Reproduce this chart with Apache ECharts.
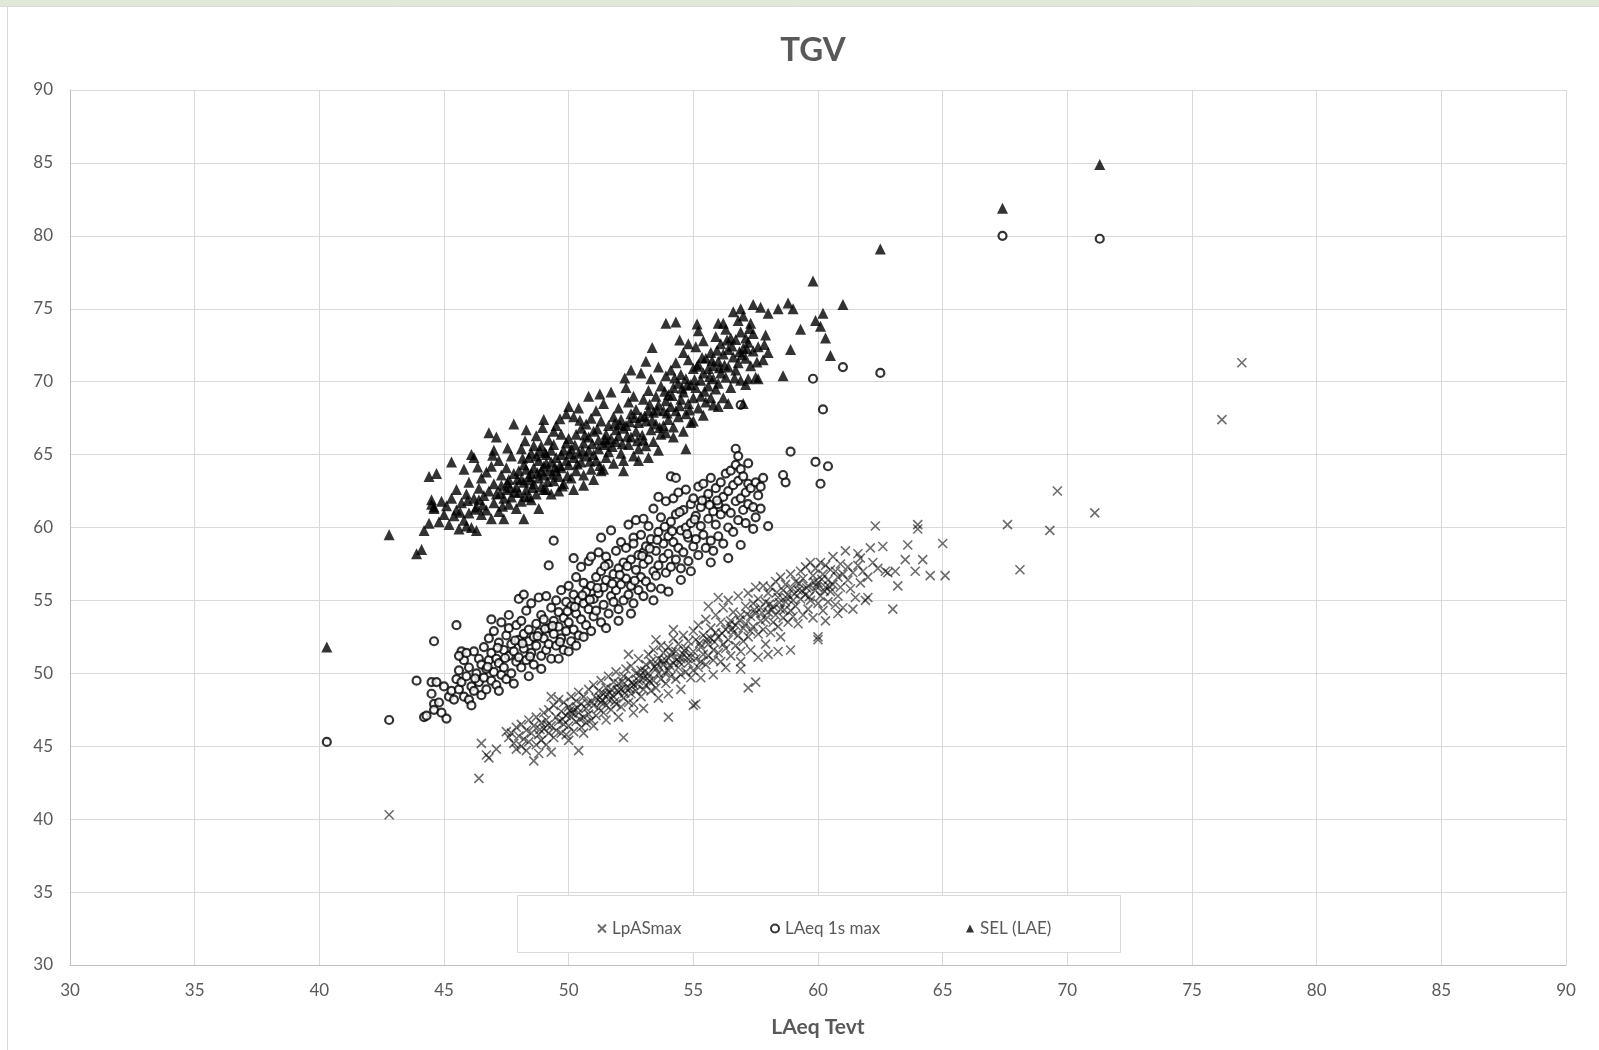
<!DOCTYPE html>
<html>
  <head>
    <meta charset="utf-8">
    <title>TGV</title>
    <script src="https://cdn.jsdelivr.net/npm/echarts@6/dist/echarts.min.js"></script>
    <style>
      html, body { margin: 0; padding: 0; background: #fff; }
      #main { width: 1599px; height: 1050px; }
    </style>
  </head>
  <body>
    <div id="main"></div>
    <script type="text/javascript">

      var chartTitle = 'TGV';
      var xName = 'LAeq Tevt';
      var axisTicks = [30, 35, 40, 45, 50, 55, 60, 65, 70, 75, 80, 85, 90];
      var seriesNames = ['LpASmax', 'LAeq 1s max', 'SEL (LAE)'];

      // LpASmax (crosses)
      var lpasmax = [
        [42.8,40.3],[46.4,42.8],[46.5,45.2],[46.7,44.4],[46.8,44.2],[47.1,44.8],[48.6,44.0],[49.3,44.6],[50.4,44.7],
        [52.2,45.6],[54.0,47.0],[55.0,47.8],[55.1,47.9],[57.2,49.0],[57.5,49.4],[60.0,52.3],[60.0,52.5],[63.0,54.4],
        [64.0,60.2],[64.0,59.9],[65.0,58.9],[65.1,56.7],[62.3,60.1],[67.6,60.2],[68.1,57.1],[69.3,59.8],[69.6,62.5],
        [71.1,61.0],[76.2,67.4],[77.0,71.3],[62.6,58.7],[63.6,58.8],[64.2,57.8],[63.9,57.0],[64.5,56.7],[62.8,56.9],
        [63.2,56.0],[63.5,57.8],[61.2,56.4],[62.0,55.2],[61.7,57.9],[62.1,58.6],[58.4,51.5],[58.9,51.6],[56.9,50.3],
        [47.6,45.6],[47.7,45.9],[47.8,45.2],[47.9,46.3],[48.0,45.7],[48.1,45.0],[48.1,46.5],[48.2,45.5],[48.3,46.1],
        [48.4,45.3],[48.4,46.8],[48.5,45.9],[48.6,46.4],[48.7,45.1],[48.7,47.0],[48.8,45.8],[48.9,46.6],[48.9,45.4],
        [49.0,46.2],[49.0,47.3],[47.9,44.8],[48.3,44.7],[48.8,44.5],[49.1,45.1],[47.5,46.0],
        [49.1,46.8],[49.2,45.9],[49.2,47.5],[49.3,46.4],[49.4,47.8],[49.4,45.6],[49.5,47.0],[49.5,46.1],[49.6,48.2],
        [49.6,46.7],[49.7,45.9],[49.7,47.4],[49.8,46.5],[49.8,48.0],[49.9,47.1],[49.9,45.8],[50.0,47.7],[50.0,46.4],
        [50.1,48.4],[50.1,47.0],[50.2,46.0],[50.2,47.5],[50.3,48.1],[50.3,46.7],[50.4,47.3],[50.4,48.7],[50.5,46.3],
        [50.5,47.9],[50.6,47.0],[50.6,48.4],[50.7,46.6],[50.7,47.6],[50.8,48.9],[50.8,47.2],[50.9,48.1],[50.9,46.8],
        [51.0,47.8],[51.0,49.2],[49.3,48.4],[50.0,45.4],[50.6,45.9],[51.0,46.4],
        [51.1,48.3],[51.1,47.1],[51.2,48.8],[51.2,47.6],[51.3,49.5],[51.3,48.0],[51.4,47.3],[51.4,48.6],[51.5,49.0],
        [51.5,47.8],[51.6,48.2],[51.6,49.8],[51.7,47.5],[51.7,48.9],[51.8,48.4],[51.8,49.4],[51.9,47.9],[51.9,50.1],
        [52.0,48.7],[52.0,49.3],[52.1,47.7],[52.1,48.9],[52.2,49.8],[52.2,48.3],[52.3,50.3],[52.3,49.0],[52.4,48.0],
        [52.4,49.6],[52.5,48.6],[52.5,50.5],[52.6,49.2],[52.6,47.9],[52.7,50.0],[52.7,48.8],[52.8,49.5],[52.8,51.0],
        [52.9,48.4],[52.9,50.2],[53.0,49.7],[53.0,48.9],[51.5,46.8],[52.0,47.0],[52.6,47.3],[53.0,47.6],[52.4,51.3],
        [53.1,50.6],[53.1,49.2],[53.2,51.3],[53.2,50.0],[53.3,48.8],[53.3,50.8],[53.4,49.5],[53.4,51.6],[53.5,50.3],
        [53.5,49.0],[53.6,51.0],[53.6,50.0],[53.7,51.9],[53.7,49.6],[53.8,50.6],[53.8,51.4],[53.9,49.3],[53.9,50.9],
        [54.0,51.8],[54.0,50.2],[54.1,49.8],[54.1,51.2],[54.2,52.4],[54.2,50.7],[54.3,49.6],[54.3,51.5],[54.4,50.4],
        [54.4,52.0],[54.5,51.0],[54.5,49.9],[54.6,52.6],[54.6,51.3],[54.7,50.1],[54.7,51.7],[54.8,50.7],[54.8,52.2],
        [54.9,51.1],[54.9,49.7],[55.0,52.9],[55.0,51.5],[53.6,48.3],[54.0,48.6],[54.5,48.9],[55.0,50.2],[53.5,52.3],
        [54.2,53.0],
        [55.1,51.0],[55.1,52.3],[55.2,50.4],[55.2,53.3],[55.3,51.8],[55.3,50.8],[55.4,52.6],[55.4,51.3],[55.5,53.7],
        [55.5,50.6],[55.6,52.0],[55.6,51.2],[55.7,53.1],[55.7,52.4],[55.8,51.6],[55.8,50.9],[55.9,52.8],[55.9,54.0],
        [56.0,51.4],[56.0,52.5],[56.1,53.5],[56.1,50.8],[56.2,52.0],[56.2,54.5],[56.3,51.7],[56.3,53.0],[56.4,52.3],
        [56.4,55.0],[56.5,51.2],[56.5,53.6],[56.6,52.8],[56.6,54.2],[56.7,51.9],[56.7,53.3],[56.8,55.3],[56.8,52.6],
        [56.9,54.0],[56.9,51.5],[57.0,53.1],[57.0,52.2],[55.3,49.7],[55.8,49.9],[56.3,50.4],[56.9,50.8],[55.6,54.6],
        [56.0,55.2],
        [57.1,54.6],[57.1,53.4],[57.2,52.5],[57.2,55.5],[57.3,53.9],[57.3,52.9],[57.4,54.8],[57.4,53.2],[57.5,55.9],
        [57.5,54.1],[57.6,52.7],[57.6,55.1],[57.7,53.6],[57.7,54.5],[57.8,56.0],[57.8,53.0],[57.9,54.9],[57.9,53.7],
        [58.0,55.5],[58.0,54.2],[58.1,52.8],[58.1,55.9],[58.2,54.6],[58.2,53.5],[58.3,56.3],[58.3,54.0],[58.4,55.2],
        [58.4,53.2],[58.5,56.6],[58.5,54.4],[58.6,55.7],[58.6,53.8],[58.7,54.9],[58.7,56.1],[58.8,53.5],[58.8,55.4],
        [58.9,54.3],[58.9,56.8],[59.0,55.0],[59.0,53.9],[57.3,51.6],[57.9,52.0],[58.5,52.5],[58.0,51.3],[57.6,51.1],
        [59.1,56.3],[59.1,54.6],[59.2,55.7],[59.2,53.4],[59.3,57.0],[59.3,55.1],[59.4,54.0],[59.4,56.5],[59.5,55.4],
        [59.5,57.3],[59.6,54.4],[59.6,56.0],[59.7,57.6],[59.7,55.0],[59.8,56.7],[59.8,53.8],[59.9,55.7],[59.9,57.2],
        [60.0,54.8],[60.0,56.2],[60.1,57.6],[60.1,55.3],[60.2,56.8],[60.2,54.3],[60.3,55.9],[60.3,57.4],[60.4,56.4],
        [60.4,54.9],[60.5,57.1],[60.5,55.6],[60.6,56.1],[60.6,58.0],[60.7,54.7],[60.7,57.0],[60.8,56.6],[60.8,55.3],
        [60.9,57.5],[60.9,55.9],[61.0,56.8],[61.0,54.5],[61.2,57.3],[61.3,55.8],[61.4,56.9],[61.5,55.2],[61.6,57.4],
        [61.7,56.2],[61.8,57.0],[61.9,55.0],[62.0,56.6],[62.2,57.6],[61.1,58.4],[60.3,53.6],[60.8,54.1],[61.4,54.4],
        [61.6,58.2],[62.4,57.2],[62.7,57.0],[63.1,57.0],
        [50.15,47.25],[50.45,46.85],[50.75,47.95],[51.25,48.35],[51.55,48.55],[51.85,48.05],[52.15,49.45],[52.45,48.95],
        [52.75,49.25],[53.05,50.15],[53.25,49.45],[53.55,50.65],[53.85,50.05],[54.15,51.45],[54.45,50.75],[54.75,51.05],
        [57.75,54.15],[58.05,54.75],[58.35,55.55],[58.65,54.35],[58.95,55.85],[59.25,56.15],[59.55,55.85],[59.85,56.25],
        [60.15,56.45],[60.45,55.95],[57.45,54.35],[57.15,54.05],[56.85,53.65],[56.55,53.05],
        [51.35,48.15],[51.65,48.65],[51.95,48.85],[52.25,48.65],[52.55,49.35],[52.85,49.85],[53.15,49.65],[53.45,50.45],
        [53.75,50.85],[54.05,50.55],[54.35,50.95],[54.65,51.55],[58.15,54.35],[58.45,54.85],[58.75,55.15],[59.05,55.45],
        [59.35,55.65],[59.65,55.25],[59.95,55.95],[60.25,55.65],[49.75,46.85],[50.05,47.45],[50.35,47.65],[48.85,46.15],
        [49.15,46.45],[55.25,52.05],[55.55,52.35],[55.85,52.15],[56.15,52.75],[56.45,53.35]
      ];

      // LAeq 1s max (open circles)
      var laeq1s = [
        [40.3,45.3],[42.8,46.8],[43.9,49.5],[44.2,47.0],[44.3,47.1],[44.6,52.2],[45.5,53.3],[45.7,51.5],[49.2,57.4],
        [49.4,59.1],[52.6,59.3],[53.0,58.3],[56.9,68.4],[59.8,70.2],[61.0,71.0],[62.5,70.6],[60.2,68.1],[58.9,65.2],
        [59.9,64.5],[60.4,64.2],[60.1,63.0],[58.7,63.1],[58.6,63.6],[58.0,60.1],[67.4,80.0],[71.3,79.8],[54.1,63.5],
        [56.7,65.4],[56.8,64.9],
        [44.5,49.4],[44.7,49.4],[44.5,48.6],[44.6,47.9],[44.6,47.5],[44.8,48.0],[44.9,47.3],[45.0,49.1],[45.1,46.9],
        [45.2,48.4],[45.3,48.8],[45.4,48.2],[45.5,49.6],[45.6,48.9],[45.6,50.2],[45.7,49.4],[45.8,48.4],[45.8,50.9],
        [45.9,49.8],[46.0,48.2],[46.0,50.4],[46.1,49.1],[46.2,51.5],[46.2,48.8],[46.3,50.0],[46.4,49.4],[46.4,51.0],
        [46.5,48.5],[46.5,50.6],[45.6,51.2],[45.9,51.4],[46.1,47.8],
        [46.6,49.7],[46.6,51.8],[46.7,50.3],[46.7,48.9],[46.8,52.4],[46.8,50.9],[46.9,49.5],[46.9,51.4],[47.0,50.1],
        [47.0,52.9],[47.1,51.0],[47.1,49.2],[47.2,50.7],[47.2,52.1],[47.3,49.9],[47.3,53.5],[47.4,51.6],[47.4,50.4],
        [47.5,52.6],[47.5,49.6],[47.6,51.2],[47.6,53.1],[47.7,50.0],[47.7,52.0],[47.8,51.5],[47.8,49.3],[47.9,53.3],
        [47.9,50.8],[48.0,52.3],[48.0,51.1],[46.9,53.7],[47.2,48.8],[47.6,54.0],
        [48.1,50.4],[48.1,53.6],[48.2,52.7],[48.2,51.7],[48.3,54.3],[48.3,50.9],[48.4,52.2],[48.4,53.0],[48.5,51.4],
        [48.5,54.8],[48.6,52.5],[48.6,50.6],[48.7,53.4],[48.7,51.9],[48.8,55.2],[48.8,52.8],[48.9,51.2],[48.9,54.0],
        [49.0,52.4],[49.0,53.7],[49.1,51.6],[49.1,55.3],[49.2,53.1],[49.2,52.0],[49.3,54.5],[49.3,51.0],[49.4,53.6],
        [49.4,52.7],[49.5,55.0],[49.5,51.9],[48.0,55.1],[48.2,55.4],[48.4,49.8],[48.9,50.3],
        [49.6,53.2],[49.6,54.2],[49.7,52.4],[49.7,55.7],[49.8,53.8],[49.8,51.6],[49.9,54.9],[49.9,52.9],[50.0,56.0],
        [50.0,53.5],[50.1,52.2],[50.1,54.6],[50.2,55.4],[50.2,53.0],[50.3,56.6],[50.3,54.1],[50.4,52.6],[50.4,55.0],
        [50.5,57.3],[50.5,53.7],[50.6,54.8],[50.6,56.2],[50.7,53.3],[50.7,55.6],[50.8,57.7],[50.8,54.4],[50.9,52.9],
        [50.9,56.0],[51.0,55.1],[51.0,53.9],[49.6,51.0],[50.0,51.5],[50.3,51.9],[50.6,52.5],[50.9,58.0],[50.2,57.9],
        [51.1,56.6],[51.1,54.3],[51.2,58.3],[51.2,55.5],[51.3,53.5],[51.3,57.0],[51.4,55.9],[51.4,54.7],[51.5,58.0],
        [51.5,56.4],[51.6,54.1],[51.6,57.5],[51.7,55.3],[51.7,59.8],[51.8,56.8],[51.8,54.9],[51.9,58.4],[51.9,55.7],
        [52.0,57.2],[52.0,54.4],[52.1,56.1],[52.1,59.0],[52.2,57.6],[52.2,55.0],[52.3,58.6],[52.3,56.5],[52.4,55.4],
        [52.4,60.2],[52.5,57.8],[52.5,56.0],[52.6,54.8],[52.6,58.9],[52.7,57.1],[52.7,60.5],[52.8,55.7],[52.8,58.1],
        [52.9,56.6],[52.9,59.5],[53.0,57.5],[53.0,55.3],[51.5,53.1],[52.0,53.6],[52.5,54.1],[53.0,60.6],[51.3,59.3],
        [53.1,58.7],[53.1,56.3],[53.2,60.1],[53.2,57.8],[53.3,55.9],[53.3,59.2],[53.4,57.0],[53.4,61.3],[53.5,58.4],
        [53.5,56.7],[53.6,59.7],[53.6,57.4],[53.7,60.7],[53.7,55.8],[53.8,58.9],[53.8,57.9],[53.9,61.8],[53.9,56.9],
        [54.0,59.4],[54.0,58.2],[54.1,60.4],[54.1,57.3],[54.2,62.0],[54.2,59.0],[54.3,57.8],[54.3,60.9],[54.4,58.6],
        [54.4,62.4],[54.5,59.8],[54.5,57.2],[54.6,61.2],[54.6,58.3],[54.7,60.0],[54.7,62.6],[54.8,59.3],[54.8,57.7],
        [54.9,61.6],[54.9,60.3],[55.0,58.7],[55.0,62.0],[53.4,55.0],[54.0,55.6],[54.5,56.4],[54.9,57.0],[53.6,62.1],
        [54.3,63.4],
        [55.1,60.8],[55.1,59.2],[55.2,62.8],[55.2,58.1],[55.3,61.4],[55.3,60.1],[55.4,63.0],[55.4,59.5],[55.5,61.9],
        [55.5,58.6],[55.6,60.6],[55.6,62.3],[55.7,59.1],[55.7,63.4],[55.8,61.1],[55.8,58.4],[55.9,62.7],[55.9,60.2],
        [56.0,61.6],[56.0,59.4],[56.1,63.1],[56.1,60.9],[56.2,62.1],[56.2,58.9],[56.3,63.7],[56.3,61.3],[56.4,60.0],
        [56.4,62.5],[56.5,63.9],[56.5,61.0],[56.6,62.9],[56.6,59.7],[56.7,61.8],[56.7,64.3],[56.8,60.5],[56.8,63.2],
        [56.9,62.0],[56.9,64.0],[57.0,61.2],[57.0,63.5],[57.1,62.4],[57.1,60.3],[57.2,63.0],[57.2,61.6],[57.3,62.7],
        [57.4,59.9],[57.4,61.4],[57.5,63.1],[57.6,62.2],[57.7,62.8],[57.7,61.3],[57.8,63.4],[57.2,64.4],[56.4,57.9],
        [55.7,57.6],[56.9,58.8],[57.5,60.7],
        [46.25,49.65],[46.75,50.45],[47.15,51.75],[47.45,51.05],[47.85,52.25],[48.15,52.05],[48.45,51.15],[48.75,52.55],
        [49.05,53.05],[49.35,53.25],[49.65,52.15],[49.95,54.25],[50.25,54.55],[50.55,55.35],[50.85,55.05],[51.15,55.85],
        [51.45,57.35],[51.75,56.15],[52.05,56.75],[52.35,57.35],[52.65,56.35],[52.95,58.05],[53.25,58.55],[53.55,59.15],
        [53.85,60.05],[54.15,59.75],[54.45,61.05],[54.75,59.55],[55.05,60.55],[55.35,61.85],[55.65,61.55],[55.95,61.85]
      ];

      // SEL (LAE) (filled triangles)
      var sel = [
        [58.4,75.0],[58.8,75.4],[59.0,75.0],[58.9,72.2],[58.6,70.4],[59.3,73.6],[59.8,76.9],[59.9,74.2],[60.1,73.8],
        [60.2,74.7],[60.3,73.0],[60.5,71.8],[61.0,75.3],[62.5,79.1],[67.4,81.9],[71.3,84.9],[40.3,51.8],[42.8,59.5],
        [43.9,58.2],[44.1,58.5],[44.2,59.8],[44.5,61.9],[44.6,61.4],[44.4,63.5],[53.9,74.0],[56.0,74.0],[54.7,65.4],
        [44.5,61.6],[44.6,61.3],[44.7,63.7],[44.8,60.4],[44.9,61.8],[45.0,60.9],[45.1,61.5],[45.2,60.2],[45.3,62.0],
        [45.4,60.8],[45.5,61.2],[44.4,60.3],[45.3,64.5],[45.6,59.9],[45.5,62.6],
        [45.7,61.7],[45.8,60.5],[45.9,62.3],[46.0,61.0],[46.0,63.1],[46.1,60.0],[46.2,64.8],[46.2,62.0],[46.3,61.4],
        [46.4,62.7],[46.5,60.9],[46.5,63.4],[45.8,64.0],[46.1,65.0],[46.3,59.8],[46.4,61.9],[45.9,60.1],[46.6,62.2],
        [46.7,61.2],[46.7,63.8],
        [46.8,62.5],[46.9,60.6],[46.9,64.2],[47.0,61.7],[47.0,63.0],[47.1,62.3],[47.1,66.2],[47.2,61.1],[47.2,64.6],
        [47.3,62.9],[47.3,63.6],[47.4,60.6],[47.4,62.0],[47.5,64.1],[47.5,62.6],[46.8,66.5],[47.0,65.3],[47.6,61.6],
        [47.6,63.3],[47.7,64.9],[47.7,62.1],[47.8,67.1],[47.8,63.7],[47.9,61.3],[47.9,62.8],
        [48.0,63.9],[48.0,62.4],[48.1,65.4],[48.1,61.8],[48.2,64.3],[48.2,63.1],[48.3,66.7],[48.3,62.6],[48.4,64.8],
        [48.4,63.5],[48.5,61.9],[48.5,65.1],[48.6,63.0],[48.6,64.1],[48.7,66.3],[48.7,62.3],[48.8,64.6],[48.8,63.4],
        [48.9,65.6],[48.9,62.8],[49.0,64.2],[49.0,63.6],[49.0,67.4],[48.2,60.6],[48.8,61.3],[49.1,65.0],[49.1,62.6],
        [49.2,66.0],[49.2,63.9],[49.3,64.5],[49.3,62.3],[49.4,65.7],[49.4,63.2],[49.5,67.0],[49.5,64.8],[49.6,63.5],
        [49.6,62.5],[49.7,66.4],[49.7,64.1],[49.8,65.3],[49.8,63.0],[49.9,67.8],[49.9,64.6],
        [48.1,63.3],[48.3,64.0],[48.5,63.7],[48.7,64.9],[48.9,63.9],[49.1,64.4],[49.3,65.3],[49.5,63.9],[49.7,65.0],
        [49.9,65.8],[48.4,62.1],[48.6,65.6],[49.0,62.6],[49.4,66.6],
        [50.0,64.3],[50.0,66.1],[50.1,65.4],[50.1,63.4],[50.2,67.6],[50.2,64.8],[50.3,66.4],[50.3,63.9],[50.4,65.1],
        [50.4,68.2],[50.5,64.5],[50.5,66.8],[50.6,65.8],[50.6,63.6],[50.7,67.1],[50.7,64.9],[50.8,66.2],[50.8,65.3],
        [50.9,64.0],[50.9,67.5],[51.0,66.6],[51.0,65.0],[51.1,68.0],[51.1,64.6],[51.2,66.0],[51.2,65.4],[51.3,67.3],
        [51.3,63.9],[51.4,65.7],[51.4,68.5],[51.5,66.4],[51.5,64.8],[51.6,67.0],[51.6,65.2],[51.7,69.3],[51.7,66.1],
        [51.8,64.4],[51.8,67.6],[51.9,65.9],[51.9,66.7],[50.2,62.6],[50.6,62.9],[51.0,63.3],[51.4,64.0],[50.0,68.3],
        [50.8,69.0],
        [52.0,66.3],[52.0,68.2],[52.1,65.1],[52.1,67.4],[52.2,66.8],[52.2,64.6],[52.3,69.6],[52.3,67.0],[52.4,65.7],
        [52.4,68.6],[52.5,66.2],[52.5,67.8],[52.6,64.9],[52.6,69.0],[52.7,66.6],[52.7,68.1],[52.8,67.2],[52.8,65.4],
        [52.9,70.6],[52.9,67.6],[53.0,66.0],[53.0,68.8],[53.1,67.3],[53.1,65.6],[53.2,69.4],[53.2,68.0],[53.3,66.7],
        [53.3,70.2],[53.4,67.9],[53.4,65.9],[53.5,69.0],[53.5,67.1],[53.6,68.4],[53.6,71.0],[53.7,66.4],[53.7,69.7],
        [53.8,68.0],[53.8,67.0],[53.9,70.4],[53.9,68.7],[52.2,63.9],[52.8,64.6],[53.2,64.8],[53.6,65.3],[53.9,66.5],
        [52.5,70.8],[53.1,71.4],
        [54.0,69.1],[54.0,67.4],[54.1,70.8],[54.1,68.3],[54.2,66.9],[54.2,69.6],[54.3,71.3],[54.3,68.0],[54.4,69.9],
        [54.4,67.6],[54.5,70.5],[54.5,68.8],[54.6,72.0],[54.6,69.3],[54.7,67.8],[54.7,70.2],[54.8,71.5],[54.8,68.5],
        [54.9,69.8],[54.9,67.2],[55.0,70.9],[55.0,68.9],[55.1,72.4],[55.1,69.6],[55.2,68.2],[55.2,71.2],[55.3,70.1],
        [55.3,69.0],[55.4,72.8],[55.4,70.6],[55.5,68.6],[55.5,71.6],[55.6,69.7],[55.6,70.9],[55.7,72.0],[55.7,68.9],
        [55.8,71.1],[55.8,70.2],[55.9,73.1],[55.9,69.5],[54.2,66.2],[54.6,66.6],[55.0,67.3],[55.4,67.7],[55.8,68.4],
        [54.3,74.1],[54.8,72.6],[55.2,73.5],
        [56.0,71.4],[56.0,69.9],[56.1,72.6],[56.1,70.6],[56.2,68.9],[56.2,71.9],[56.3,73.6],[56.3,70.3],[56.4,71.0],
        [56.4,72.2],[56.5,69.6],[56.5,73.0],[56.6,74.8],[56.6,71.7],[56.7,70.8],[56.7,72.9],[56.8,74.2],[56.8,71.3],
        [56.9,73.4],[56.9,70.1],[57.0,72.3],[57.0,74.5],[57.0,68.5],[57.1,71.6],[57.1,73.0],[57.2,70.2],[57.2,72.7],
        [57.3,74.0],[57.3,71.1],[57.4,72.1],[57.4,73.3],[57.5,70.3],[57.6,72.4],[57.7,75.1],[57.8,71.5],[57.9,73.2],
        [58.0,72.0],[56.2,74.0],[56.9,75.0],[56.4,68.5],[57.1,69.8],[57.6,70.2],[56.0,68.3],[58.0,74.7],[57.4,75.3],
        [47.25,62.35],[47.55,63.05],[47.85,62.45],[48.15,64.75],[48.45,63.25],[48.75,63.75],[49.05,65.15],[49.35,63.65],
        [49.65,64.25],[49.95,63.55],[50.25,65.65],[50.55,65.25],[50.85,64.55],[51.15,66.75],[51.45,66.05],[51.75,65.55],
        [52.05,67.05],[52.35,66.25],[52.65,67.55],[52.95,66.35],[53.25,68.45],[53.55,68.05],[53.85,69.35],[54.15,69.05],
        [54.45,68.35],[54.75,69.75],[55.05,70.15],[55.35,71.65],[55.65,70.35],[55.95,72.15],[56.25,71.15],[56.55,72.45],
        [56.85,72.05],[57.15,72.25],[46.55,61.55],[46.25,61.25],[45.95,61.85],[45.65,61.05],
        [47.35,61.45],[47.65,62.75],[47.95,63.35],[48.25,62.15],[48.55,62.75],[48.85,65.25],[49.15,63.15],[49.45,64.15],
        [49.75,62.85],[50.05,65.05],[50.35,64.35],[50.65,66.35],[50.95,65.75],[51.25,64.25],[51.55,65.85],[51.85,67.15],
        [52.15,65.75],[52.45,67.25],[52.75,65.95],[53.05,67.65],[53.35,67.35],[53.65,66.85],[53.95,67.85],[54.25,70.25],
        [54.55,69.55],[54.85,68.05],[55.15,71.05],[55.45,69.35],[55.75,71.45],[56.05,70.95],[56.35,72.85],[56.65,70.25],
        [56.95,71.85],[57.25,73.65],[57.55,71.35],[57.85,72.55],[55.15,73.95],[54.45,72.85],[53.35,72.35],[52.25,70.25],
        [51.25,69.15],[50.45,67.35],[49.65,67.45],[48.95,66.85],[48.25,65.95],[47.55,65.45],[46.95,64.95],[46.35,64.15]
      ];

      var textColor = '#595959';
      var fontFamily = 'Lato, "Open Sans", sans-serif';

      var myChart = echarts.init(document.getElementById('main'));

      function legendAt(name, left) {
        return {
          data: [name],
          left: left,
          top: 915,
          itemWidth: 8,
          itemHeight: 8,
          itemGap: 0,
          z: 10,
          textStyle: { color: textColor, fontSize: 17, fontFamily: fontFamily, padding: [0, 0, 0, 1] }
        };
      }

      var option = {
        backgroundColor: '#fff',
        animation: false,
        title: {
          text: chartTitle,
          left: 808,
          top: 29,
          textAlign: 'center',
          textStyle: { color: textColor, fontSize: 33, fontWeight: 'bold', fontFamily: fontFamily }
        },
        grid: { left: 70, right: 33, top: 90, bottom: 85 },
        legend: [
          legendAt(seriesNames[0], 592),
          legendAt(seriesNames[1], 765),
          legendAt(seriesNames[2], 961)
        ],
        graphic: [
          { type: 'rect', z: 3, shape: { x: 0, y: 0, width: 1599, height: 6 }, style: { fill: '#e2e9d9' } },
          { type: 'line', z: 3, shape: { x1: 0, y1: 6.5, x2: 1599, y2: 6.5 }, style: { stroke: '#d9d9d9', lineWidth: 1 } },
          { type: 'line', z: 3, shape: { x1: 7.5, y1: 7, x2: 7.5, y2: 1050 }, style: { stroke: '#d9d9d9', lineWidth: 1 } },
          { type: 'rect', z: 3, shape: { x: 517.5, y: 895.5, width: 603, height: 57 }, style: { fill: '#fff', stroke: '#d9d9d9', lineWidth: 1 } }
        ],
        xAxis: {
          type: 'value',
          min: axisTicks[0],
          max: axisTicks[axisTicks.length - 1],
          interval: 5,
          name: xName,
          nameLocation: 'middle',
          nameGap: 52,
          nameTextStyle: { color: textColor, fontSize: 21, fontWeight: 'bold', fontFamily: fontFamily },
          axisLine: { lineStyle: { color: '#bfbfbf', width: 1 } },
          axisTick: { show: false },
          axisLabel: { color: textColor, fontSize: 17, fontFamily: fontFamily, margin: 17 },
          splitLine: { show: true, lineStyle: { color: '#d9d9d9', width: 1 } }
        },
        yAxis: {
          type: 'value',
          min: axisTicks[0],
          max: axisTicks[axisTicks.length - 1],
          interval: 5,
          axisLine: { show: true, lineStyle: { color: '#bfbfbf', width: 1 } },
          axisTick: { show: false },
          axisLabel: { color: textColor, fontSize: 17, fontFamily: fontFamily, margin: 17 },
          splitLine: { show: true, lineStyle: { color: '#d9d9d9', width: 1 } }
        },
        series: [
          {
            name: seriesNames[0],
            type: 'scatter',
            data: lpasmax,
            symbol: 'path://M0,0L10,10M10,0L0,10',
            symbolSize: 9,
            itemStyle: { color: 'rgba(0,0,0,0)', borderColor: 'rgba(0,0,0,0.72)', borderWidth: 1.6 }
          },
          {
            name: seriesNames[1],
            type: 'scatter',
            data: laeq1s,
            symbol: 'circle',
            symbolSize: 8,
            itemStyle: { color: '#fff', borderColor: '#000', borderWidth: 2.2 }
          },
          {
            name: seriesNames[2],
            type: 'scatter',
            data: sel,
            symbol: 'triangle',
            symbolSize: 11,
            itemStyle: { color: '#000' }
          }
        ]
      };

      myChart.setOption(option);
    </script>
  </body>
</html>
